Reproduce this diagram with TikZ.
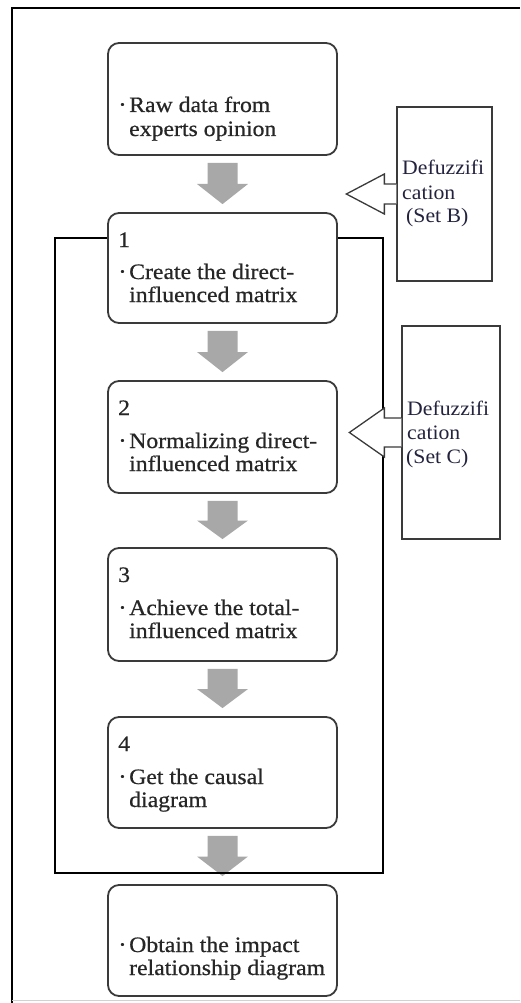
\documentclass[tikz,border=0pt]{standalone}
\usepackage{fontspec}
\setmainfont{Liberation Serif}[FakeStretch=1.08,FakeBold=0.6]
\newfontfamily\dfont{Liberation Serif}[FakeStretch=1.06]
\usetikzlibrary{calc,backgrounds}
\definecolor{arrgray}{HTML}{A8A8A8}
\definecolor{boxline}{HTML}{3A3A3A}
\definecolor{txtc}{HTML}{262626}
\definecolor{navy}{HTML}{23233F}
\newcommand\bul{\makebox[9pt][l]{\raisebox{3.5pt}{\fontsize{12}{12}\selectfont •}}}
\newcommand\grayarrow[2]{%
  \fill[arrgray] let \p1=(#1.south), \p2=(#2.north) in
    (\x1-15pt,\y1-7pt) -- (\x1+15pt,\y1-7pt) -- (\x1+15pt,{0.5*(\y1+\y2)}) --
    (\x1+25.5pt,{0.5*(\y1+\y2)}) -- (\x1,\y2+8pt) -- (\x1-25.5pt,{0.5*(\y1+\y2)}) --
    (\x1-15pt,{0.5*(\y1+\y2)}) -- cycle;}
\begin{document}
\begin{tikzpicture}[x=1pt,y=-1pt,
  stepbox/.style={draw=boxline,line width=1.8pt,rounded corners=11pt,fill=white,
    minimum width=229pt,minimum height=#1,inner sep=0pt},
  dbox/.style={draw=boxline,line width=1.3pt,fill=white,inner sep=0pt},
  txt/.style={anchor=base west,inner sep=0pt,text=txtc,font=\fontsize{22}{23}\selectfont},
  dtxt/.style={anchor=base west,inner sep=0pt,text=navy,font=\dfont\fontsize{20.5}{24}\selectfont},
  oarrow/.style={draw=boxline,line width=1.3pt,fill=white}]
\useasboundingbox (0,0) rectangle (520,1003);
% outer frame
\draw[line width=1.3pt] (12,1003) -- (12,8) -- (520,8);
\draw[black!18,line width=1pt] (12,1000) -- (520,1000);
% inner frame
\draw[line width=1.5pt] (55,238) rectangle (383,873);
% step boxes
\node[stepbox=112pt] (b0) at (222.5,99) {};
\node[stepbox=110pt] (b1) at (222.5,268) {};
\node[stepbox=112pt] (b2) at (222.5,437) {};
\node[stepbox=113pt] (b3) at (222.5,604.5) {};
\node[stepbox=111pt] (b4) at (222.5,772.5) {};
\node[stepbox=111pt] (b5) at (222.5,940.5) {};
% texts
\node[txt] (t0a) at (120,112) {\bul Raw data from};
\node[txt] (t0b) at (129,136) {experts opinion};
\node[txt] (t1n) at (118,247) {1};
\node[txt] (t1a) at (120,279) {\bul Create the direct-};
\node[txt] (t1b) at (129,302) {influenced matrix};
\node[txt] (t2n) at (118,415) {2};
\node[txt] (t2a) at (120,448) {\bul Normalizing direct-};
\node[txt] (t2b) at (129,471) {influenced matrix};
\node[txt] (t3n) at (118,582) {3};
\node[txt] (t3a) at (120,615) {\bul Achieve the total-};
\node[txt] (t3b) at (129,638) {influenced matrix};
\node[txt] (t4n) at (118,751) {4};
\node[txt] (t4a) at (120,784) {\bul Get the causal};
\node[txt] (t4b) at (129,807) {diagram};
\node[txt] (t5a) at (120,952) {\bul Obtain the impact};
\node[txt] (t5b) at (129,975) {relationship diagram};
% defuzzification boxes
\node[dbox,minimum width=95pt,minimum height=174pt] (dB) at (444.5,194) {};
\node[dbox,minimum width=98pt,minimum height=213pt] (dC) at (451,432.5) {};
\node[dtxt] (dBa) at (402,175) {Defuzzifi};
\node[dtxt] (dBb) at (402,199) {cation};
\node[dtxt] (dBc) at (406,222) {(Set B)};
\node[dtxt] (dCa) at (407,415) {Defuzzifi};
\node[dtxt] (dCb) at (407,439) {cation};
\node[dtxt] (dCc) at (406,463) {(Set C)};
% open arrows
\draw[oarrow] ($(dB.west)+(0,-10)$) -- ++(-12,0) -- ++(0,-10) -- ($(dB.west)+(-50,0)$)
  -- ($(dB.west)+(-12,20)$) -- ++(0,-10) -- ($(dB.west)+(0,10)$);
\draw[oarrow] ($(dC.west)+(0,-14.5)$) -- ++(-17,0) -- ++(0,-10) -- ($(dC.west)+(-52,0)$)
  -- ($(dC.west)+(-17,24.5)$) -- ++(0,-10) -- ($(dC.west)+(0,14.5)$);
% gray arrows
\begin{pgfonlayer}{background}
\grayarrow{b0}{b1}
\grayarrow{b1}{b2}
\grayarrow{b2}{b3}
\grayarrow{b3}{b4}
\grayarrow{b4}{b5}
\end{pgfonlayer}
\end{tikzpicture}
\end{document}
